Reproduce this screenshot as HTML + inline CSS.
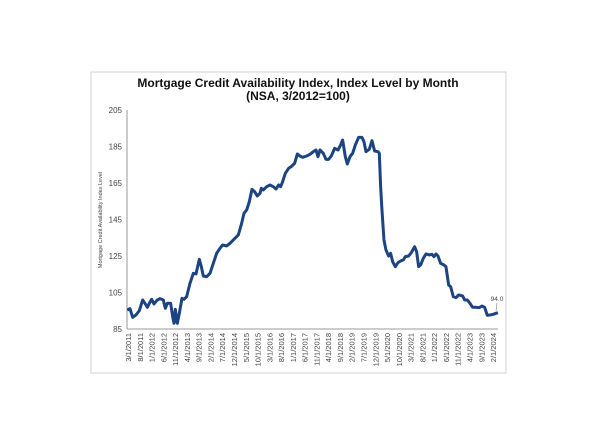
<!DOCTYPE html>
<html><head><style>
body{margin:0;background:#fff;width:600px;height:429px;overflow:hidden;font-family:"Liberation Sans",sans-serif}
</style></head><body>
<svg width="600" height="429" xmlns="http://www.w3.org/2000/svg" font-family="Liberation Sans, sans-serif">
<rect x="91" y="72" width="415" height="301" fill="#fff" stroke="#d0d0d0" stroke-width="1"/>
<text x="298" y="87" text-anchor="middle" font-size="12" font-weight="bold" fill="#111">Mortgage Credit Availability Index, Index Level by Month</text>
<text x="298" y="100" text-anchor="middle" font-size="12" font-weight="bold" fill="#111">(NSA, 3/2012=100)</text>
<line x1="127" y1="110" x2="127" y2="329" stroke="#999" stroke-width="1"/>
<line x1="127" y1="329" x2="498" y2="329" stroke="#999" stroke-width="1"/>
<g font-size="8" fill="#444" text-anchor="end">
<text x="122" y="113">205</text><text x="122" y="149.5">185</text><text x="122" y="186">165</text>
<text x="122" y="222.5">145</text><text x="122" y="259">125</text><text x="122" y="295.5">105</text><text x="122" y="332">85</text>
</g>
<text transform="translate(102,220) rotate(-90)" text-anchor="middle" font-size="5.5" fill="#444">Mortgage Credit Availability Index Level</text>
<g font-size="7.5" fill="#444" text-anchor="end">
<text transform="translate(131,333) rotate(-90)">3/1/2011</text>
<text transform="translate(142.8,333) rotate(-90)">8/1/2011</text>
<text transform="translate(154.6,333) rotate(-90)">1/1/2012</text>
<text transform="translate(166.3,333) rotate(-90)">6/1/2012</text>
<text transform="translate(178.1,333) rotate(-90)">11/1/2012</text>
<text transform="translate(189.9,333) rotate(-90)">4/1/2013</text>
<text transform="translate(201.7,333) rotate(-90)">9/1/2013</text>
<text transform="translate(213.4,333) rotate(-90)">2/1/2014</text>
<text transform="translate(225.2,333) rotate(-90)">7/1/2014</text>
<text transform="translate(237,333) rotate(-90)">12/1/2014</text>
<text transform="translate(248.8,333) rotate(-90)">5/1/2015</text>
<text transform="translate(260.5,333) rotate(-90)">10/1/2015</text>
<text transform="translate(272.3,333) rotate(-90)">3/1/2016</text>
<text transform="translate(284.1,333) rotate(-90)">8/1/2016</text>
<text transform="translate(295.9,333) rotate(-90)">1/1/2017</text>
<text transform="translate(307.6,333) rotate(-90)">6/1/2017</text>
<text transform="translate(319.4,333) rotate(-90)">11/1/2017</text>
<text transform="translate(331.2,333) rotate(-90)">4/1/2018</text>
<text transform="translate(343,333) rotate(-90)">9/1/2018</text>
<text transform="translate(354.7,333) rotate(-90)">2/1/2019</text>
<text transform="translate(366.5,333) rotate(-90)">7/1/2019</text>
<text transform="translate(378.3,333) rotate(-90)">12/1/2019</text>
<text transform="translate(390.1,333) rotate(-90)">5/1/2020</text>
<text transform="translate(401.8,333) rotate(-90)">10/1/2020</text>
<text transform="translate(413.6,333) rotate(-90)">3/1/2021</text>
<text transform="translate(425.4,333) rotate(-90)">8/1/2021</text>
<text transform="translate(437.2,333) rotate(-90)">1/1/2022</text>
<text transform="translate(448.9,333) rotate(-90)">6/1/2022</text>
<text transform="translate(460.7,333) rotate(-90)">11/1/2022</text>
<text transform="translate(472.5,333) rotate(-90)">4/1/2023</text>
<text transform="translate(484.3,333) rotate(-90)">9/1/2023</text>
<text transform="translate(496,333) rotate(-90)">2/1/2024</text>
</g>
<g transform="translate(60,70) scale(0.3333)">
<polyline fill="none" stroke="#1c4382" stroke-width="9" stroke-linejoin="round" points="202,720 210,716 218,742 228,735 238,722 248,690 258,705 262,712 268,700 275,688 282,702 292,690 300,686 310,690 316,715 322,700 332,700 338,740 342,760 346,718 352,760 358,730 366,685 372,688 380,680 390,640 400,610 408,612 418,568 424,590 430,618 440,620 450,610 460,580 470,550 480,535 488,525 500,528 510,520 520,510 535,495 545,460 552,430 560,420 568,395 576,358 584,365 592,378 600,370 604,355 610,360 620,350 630,345 640,350 648,357 656,345 662,350 668,335 676,310 686,295 696,288 704,280 712,252 720,258 728,262 740,258 750,253 760,245 768,240 774,260 780,240 790,250 798,268 806,268 814,258 824,235 834,240 842,225 848,210 856,260 862,282 870,260 878,250 886,225 896,202 906,202 912,215 918,245 928,238 936,212 944,243 954,245 958,250 962,350 966,420 972,510 978,540 986,558 992,550 998,575 1006,590 1014,578 1024,572 1030,570 1036,560 1046,558 1054,548 1064,530 1070,545 1076,590 1082,585 1090,565 1098,552 1108,555 1116,553 1122,560 1128,552 1134,558 1142,580 1152,585 1158,590 1166,645 1172,650 1180,680 1188,683 1196,675 1208,678 1214,690 1222,690 1230,700 1238,712 1248,712 1258,713 1266,708 1274,712 1282,736 1290,735 1300,733 1308,730 1314,728"/>
</g>
<text x="497" y="301" text-anchor="middle" font-size="6.5" fill="#444">94.0</text>
<line x1="497" y1="303" x2="496" y2="311" stroke="#666" stroke-width="0.5"/>
</svg>
</body></html>
